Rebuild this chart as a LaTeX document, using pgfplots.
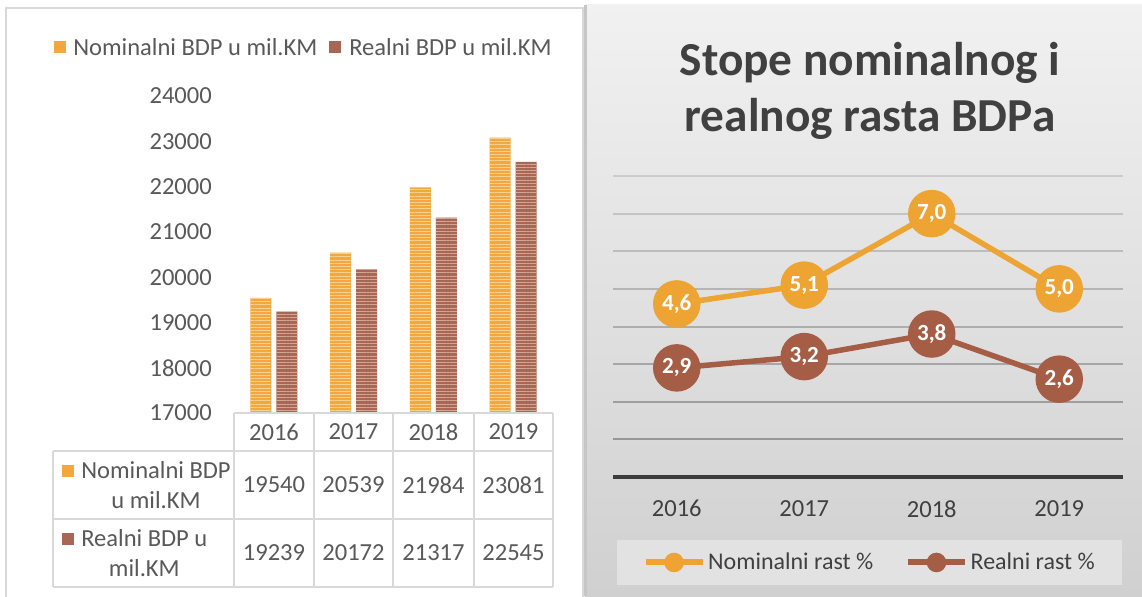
\documentclass[border=0pt]{standalone}
\usepackage{pgfplots}
\pgfplotsset{compat=1.18}
\usetikzlibrary{patterns.meta}
\usepackage{fontspec}
\setmainfont{Carlito}

\newlength\px \setlength\px{0.75pt}
\definecolor{nomc}{RGB}{237,164,50}
\definecolor{realc}{RGB}{166,93,70}
\definecolor{nombar}{RGB}{242,168,64}
\definecolor{nomstripe}{RGB}{250,208,145}
\definecolor{realbar}{RGB}{168,102,84}
\definecolor{realstripe}{RGB}{212,168,152}
\definecolor{txt}{RGB}{89,89,89}
\definecolor{txtdark}{RGB}{64,64,64}
\definecolor{tblc}{RGB}{217,217,217}
\definecolor{bgtop}{RGB}{241,241,241}
\definecolor{bgbot}{RGB}{208,208,208}
\definecolor{legbg}{RGB}{226,226,226}
\definecolor{axdark}{RGB}{60,60,60}

\newcommand\lbl{\fontsize{18.4}{22.5}\selectfont}
\newcommand\ttl{\fontsize{35.5}{42}\selectfont\bfseries}
\newcommand\dlbl{\fontsize{17.3}{20}\selectfont\bfseries}

\begin{document}
\begin{tikzpicture}[x=\px,y=\px]
\useasboundingbox (0,0) rectangle (1142,596);
% canvas and panels
\fill[white] (0,0) rectangle (1142,596);
\draw[tblc, line width=2\px] (6,-5) rectangle (583,588);
\shade[top color=bgtop, bottom color=bgbot] (585,0) rectangle (1142,591);
\draw[gray!45, line width=3\px] (585,0) -- (585,591);
\fill[legbg] (617,11) rectangle (1122,56);
\coordinate (barorigin) at (234,183);
\coordinate (rateorigin) at (613,119);

% left legend
\fill[nombar] (54,543) rectangle (66,555);
\node[anchor=west, inner sep=0pt, font=\lbl, text=txt] at (73,549) {Nominalni BDP u mil.KM};
\fill[realbar] (329,543) rectangle (341,555);
\node[anchor=west, inner sep=0pt, font=\lbl, text=txt] at (349,549) {Realni BDP u mil.KM};

% bars
\begin{axis}[
  at={(barorigin)}, anchor=south west, scale only axis,
  width=319\px, height=317\px,
  xmin=-0.5, xmax=3.5, ymin=17000, ymax=24000,
  ybar=5\px, bar width=21\px,
  xtick=\empty, ytick={17000,18000,...,24000},
  scaled y ticks=false,
  axis line style={draw=none}, major tick length=0pt,
  yticklabel style={font=\lbl, text=txt, inner sep=0pt, xshift=-22\px},
  /pgf/number format/1000 sep={},
  /pgf/number format/assume math mode=true,
]
\addplot[fill=nombar, draw=none,
  postaction={pattern={Lines[angle=0,distance=2.4pt,line width=0.7pt]}, pattern color=nomstripe}]
  coordinates {(0,19540) (1,20539) (2,21984) (3,23081)};
\addplot[fill=realbar, draw=none,
  postaction={pattern={Lines[angle=0,distance=2.4pt,line width=0.7pt]}, pattern color=realstripe}]
  coordinates {(0,19239) (1,20172) (2,21317) (3,22545)};
\end{axis}

% data table
\draw[tblc, line width=2.5\px] (234,183) -- (553,183);
\draw[tblc, line width=1.5\px] (53,145) -- (553,145) (53,77) -- (553,77) (53,9) -- (553,9) (53,145) -- (53,9);
\foreach \x in {234,314,393,474,553} \draw[tblc, line width=1.5\px] (\x,183) -- (\x,9);
\foreach \x/\yr in {274/2016,353.5/2017,433.5/2018,513.5/2019}
  \node[font=\lbl, text=txt] at (\x,164) {\yr};
\foreach \x/\a/\b in {274/19540/19239,353.5/20539/20172,433.5/21984/21317,513.5/23081/22545}{
  \node[font=\lbl, text=txt] at (\x,111) {\a};
  \node[font=\lbl, text=txt] at (\x,43) {\b};
}
\fill[nombar] (62,119) rectangle (74,131);
\node[anchor=west, inner sep=0pt, align=center, font=\lbl, text=txt] at (81,111) {Nominalni BDP\\u mil.KM};
\fill[realbar] (62,51) rectangle (74,63);
\node[anchor=west, inner sep=0pt, align=center, font=\lbl, text=txt] at (81,43) {Realni BDP u\\mil.KM};

% title of right chart
\node[anchor=base, font=\ttl, text=txtdark] at (870,520) {Stope nominalnog i};
\node[anchor=base, font=\ttl, text=txtdark] at (870,464) {realnog rasta BDPa};

% growth rates
\begin{axis}[
  at={(rateorigin)}, anchor=south west, scale only axis,
  width=510\px, height=301\px,
  xmin=-0.5, xmax=3.5, ymin=0, ymax=8,
  xtick={0,1,2,3}, xticklabels={2016,2017,2018,2019},
  ytick=\empty,
  axis line style={draw=none}, major tick length=0pt,
  xticklabel style={font=\lbl, text=txtdark, inner sep=0pt, yshift=-23\px},
  clip=false,
  nodes near coords,
  every node near coord/.append style={anchor=center, font=\dlbl, text=white},
  /pgf/number format/fixed,
  /pgf/number format/fixed zerofill,
  /pgf/number format/precision=1,
  /pgf/number format/use comma,
  /pgf/number format/assume math mode=true,
  legend style={at={(0.504,-0.284)}, anchor=center, draw=none, fill=none,
    font=\fontsize{18}{22}\selectfont, text=txtdark, legend columns=2,
    /tikz/every even column/.append style={column sep=29\px}},
  legend image code/.code={
    \draw[#1, line width=6\px] (0,0) -- (57\px,0);
    \fill[#1] (28.5\px,0) circle (7\px);},
]
% horizontal grid, darker towards the bottom
\draw[line width=2\px, black!20] (axis cs:-0.5,8) -- (axis cs:3.5,8);
\draw[line width=2\px, black!23] (axis cs:-0.5,7) -- (axis cs:3.5,7);
\draw[line width=2\px, black!26] (axis cs:-0.5,6) -- (axis cs:3.5,6);
\draw[line width=2\px, black!29] (axis cs:-0.5,5) -- (axis cs:3.5,5);
\draw[line width=2\px, black!32] (axis cs:-0.5,4) -- (axis cs:3.5,4);
\draw[line width=2\px, black!35] (axis cs:-0.5,3) -- (axis cs:3.5,3);
\draw[line width=2\px, black!38] (axis cs:-0.5,2) -- (axis cs:3.5,2);
\draw[line width=2\px, black!41] (axis cs:-0.5,1) -- (axis cs:3.5,1);
\draw[axdark, line width=4\px] (axis cs:-0.5,0) -- (axis cs:3.5,0);
\addplot[color=nomc, line width=5.5\px, mark=*, mark size=21\px, mark options={fill=nomc}]
  coordinates {(0,4.6) (1,5.1) (2,7.0) (3,5.0)};
\addlegendentry{Nominalni rast \%}
\addplot[color=realc, line width=5.5\px, mark=*, mark size=21\px, mark options={fill=realc}]
  coordinates {(0,2.9) (1,3.2) (2,3.8) (3,2.6)};
\addlegendentry{Realni rast \%}
\end{axis}
\end{tikzpicture}
\end{document}
